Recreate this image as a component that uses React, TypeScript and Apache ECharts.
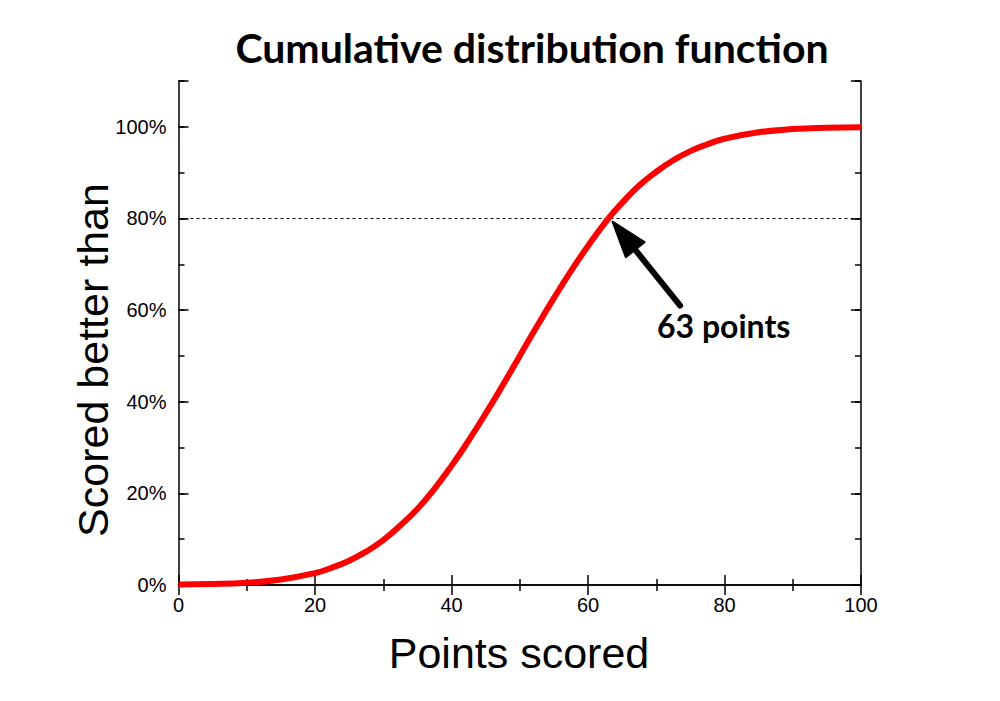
import { useEffect, useRef } from 'react'
import * as echarts from 'echarts'

// points scored (x) and share of players scored better than, in % (y)
const scores = [0, 5, 10, 15, 20, 22.5, 25, 27.5, 30, 32.5, 35, 37.5, 40, 42.5, 45, 47.5, 50, 52.5, 55, 57.5, 60, 63, 65, 67.5, 70, 72.5, 75, 77.5, 80, 85, 90, 95, 100]
const betterThan = [0.1, 0.2, 0.5, 1.2, 2.6, 3.8, 5.3, 7.3, 9.8, 13.0, 16.6, 21.0, 26, 31.5, 37.4, 43.6, 50, 56.4, 62.6, 68.5, 74, 80, 83.4, 87.2, 90.2, 92.7, 94.7, 96.2, 97.4, 98.8, 99.5, 99.8, 99.9]

const xTicks = [0, 20, 40, 60, 80, 100]
const yTicks = [0, 20, 40, 60, 80, 100]

const markLevel = 80
const markLabel = '63 points'
// arrow: tail and tip in data units
const arrowTail = [73.5, 61]
const arrowTip = [63.6, 79.3]

const TICK_FONT = '"Liberation Sans", Arial, sans-serif'
const BOLD_FONT = 'Lato, "Open Sans", sans-serif'

const xMin = 0
const xMax = 100
const yMin = 0
const yMax = 110

export default function App() {
  const ref = useRef<HTMLDivElement>(null)

  useEffect(() => {
    if (!ref.current) return
    const chart = echarts.init(ref.current, undefined, { renderer: 'svg' })

    const yLabel = (v: number) => (yTicks.includes(Math.round(v)) ? `${Math.round(v)}%` : '')
    const xLabel = (v: number) => (xTicks.includes(Math.round(v)) ? `${Math.round(v)}` : '')

    const baseX = { type: 'value', min: xMin, max: xMax, splitLine: { show: false } }
    const baseY = { type: 'value', min: yMin, max: yMax, splitLine: { show: false } }
    const line = { show: true, lineStyle: { color: '#000', width: 1.5 } }
    const tick = (length: number) => ({ show: true, inside: true, length, lineStyle: { color: '#000', width: 1.5 } })

    chart.setOption({
      animation: false,
      backgroundColor: '#fff',
      grid: { left: 178.5, right: 139, top: 81, bottom: 116 },
      title: {
        text: 'Cumulative distribution function',
        left: 527,
        top: 22,
        textAlign: 'center',
        textStyle: { fontFamily: BOLD_FONT, fontWeight: 'bold', fontSize: 41, color: '#000' },
      },
      xAxis: [
        {
          ...baseX,
          position: 'bottom',
          interval: 20,
          axisLine: line,
          axisTick: tick(10),
          minorTick: { ...tick(6), splitNumber: 2 },
          axisLabel: { formatter: xLabel, color: '#000', fontSize: 20, fontFamily: TICK_FONT, margin: 10 },
        },
        {
          ...baseX,
          position: 'top',
          interval: 20,
          axisLine: line,
          axisTick: tick(10),
          minorTick: { ...tick(6), splitNumber: 2 },
          axisLabel: { show: false },
        },
      ],
      yAxis: [
        {
          ...baseY,
          position: 'left',
          interval: 20,
          axisLine: line,
          axisTick: tick(10),
          axisLabel: { formatter: yLabel, color: '#000', fontSize: 20, fontFamily: TICK_FONT, margin: 12 },
        },
        {
          ...baseY,
          position: 'left',
          interval: 10,
          axisLine: { show: false },
          axisTick: tick(6),
          axisLabel: { show: false },
        },
        {
          ...baseY,
          position: 'right',
          interval: 20,
          axisLine: line,
          axisTick: tick(10),
          axisLabel: { show: false },
        },
        {
          ...baseY,
          position: 'right',
          interval: 10,
          axisLine: { show: false },
          axisTick: tick(6),
          axisLabel: { show: false },
        },
      ],
      series: [
        {
          type: 'line',
          xAxisIndex: 0,
          yAxisIndex: 0,
          data: scores.map((s, i) => [s, betterThan[i]]),
          smooth: true,
          showSymbol: false,
          lineStyle: { color: '#ff0000', width: 6 },
          z: 3,
          markLine: {
            silent: true,
            symbol: ['none', 'none'],
            label: { show: false },
            lineStyle: { color: '#000', width: 1, type: [3, 3] },
            data: [{ yAxis: markLevel }],
            z: 1,
          },
        },
      ],
    })

    // arrow and its label, placed from data coordinates
    const tail = chart.convertToPixel({ xAxisIndex: 0, yAxisIndex: 0 }, arrowTail) as number[]
    const tip = chart.convertToPixel({ xAxisIndex: 0, yAxisIndex: 0 }, arrowTip) as number[]
    const dx = tip[0] - tail[0]
    const dy = tip[1] - tail[1]
    const len = Math.hypot(dx, dy)
    const ux = dx / len
    const uy = dy / len
    const headLen = 36
    const headHalf = 12
    const bx = tip[0] - ux * headLen
    const by = tip[1] - uy * headLen

    chart.setOption({
      graphic: [
        {
          type: 'line',
          shape: { x1: tail[0], y1: tail[1], x2: bx + ux * 4, y2: by + uy * 4 },
          style: { stroke: '#000', lineWidth: 6, lineCap: 'round' },
          z: 10,
        },
        {
          type: 'polygon',
          shape: {
            points: [
              [tip[0], tip[1]],
              [bx - uy * headHalf, by + ux * headHalf],
              [bx + uy * headHalf, by - ux * headHalf],
            ],
          },
          style: { fill: '#000', stroke: '#000', lineWidth: 2, lineJoin: 'round' },
          z: 10,
        },
        {
          type: 'text',
          left: 657,
          top: 309,
          style: {
            text: markLabel,
            font: `bold 32px ${BOLD_FONT}`,
            fill: '#000',
          },
          z: 10,
        },
        {
          type: 'text',
          x: 519,
          y: 653,
          style: {
            text: 'Points scored',
            font: `43px ${TICK_FONT}`,
            fill: '#000',
            align: 'center',
            verticalAlign: 'middle',
          },
        },
        {
          type: 'text',
          x: 93,
          y: 360,
          rotation: Math.PI / 2,
          style: {
            text: 'Scored better than',
            font: `43px ${TICK_FONT}`,
            fill: '#000',
            align: 'center',
            verticalAlign: 'middle',
          },
        },
      ],
    })

    return () => chart.dispose()
  }, [])

  return <div ref={ref} style={{ position: 'absolute', left: 0, top: 0, width: 1000, height: 701 }} />
}
